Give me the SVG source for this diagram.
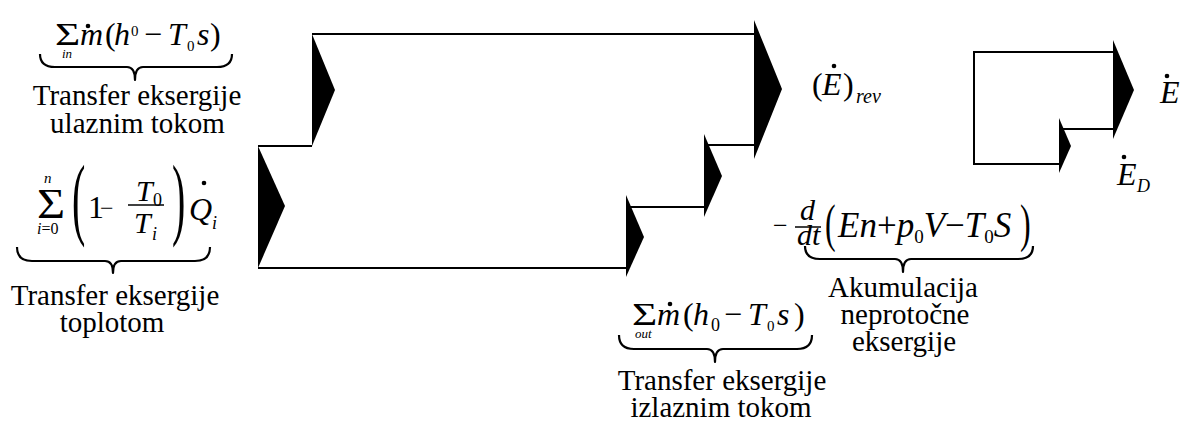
<svg xmlns="http://www.w3.org/2000/svg" width="1184" height="424" viewBox="0 0 1184 424" font-family="'Liberation Serif', Tinos, 'Times New Roman', serif">
<style>
.ln{stroke:#000;stroke-width:2;fill:none}
.hd{fill:#000;stroke:none}
.br{fill:none;stroke:#000;stroke-width:2.2;stroke-linejoin:round}
.bar{stroke:#000;stroke-width:1.5}
.dot{fill:#000}
text{font-family:'Liberation Serif',Tinos,'Times New Roman',serif;fill:#000;font-size:29px}
.m{font-size:32px}
.i{font-style:italic}
.s{font-size:18px}
.t{font-size:15px}
.xs{font-size:13px}
.c{text-anchor:middle}
.sg{font-size:31px}
</style>
<rect width="1184" height="424" fill="#fff"/>

<g id="connectors">
  <g id="main-flow">
    <path class="ln" d="M258,146 H312 M312,34 H754 M258,268 H626 M626,207 H704 M704,145 H754"/>
    <polygon class="hd" points="312,34 335,90 312,146"/>
    <polygon class="hd" points="258,146 285,206 258,268"/>
    <polygon class="hd" points="754,20 782,89 754,159"/>
    <polygon class="hd" points="704,134 722,176 704,217"/>
    <polygon class="hd" points="626,195 644,237 626,277"/>
  </g>
  <g id="legend-flow">
    <path class="ln" d="M1113,52 H974 V164 H1059 M1059,129 H1113"/>
    <polygon class="hd" points="1113,40 1134,90 1113,139"/>
    <polygon class="hd" points="1059,118 1071,146 1059,173"/>
  </g>
</g>

<g id="inlet-flow">
  <g transform="translate(55,45) scale(1.4,1)"><text class="sg" x="0" y="0">Σ</text></g>
  <text class="xs i" x="62" y="58">in</text>
  <text class="m i" x="80" y="45">m</text>
  <circle class="dot" cx="88" cy="26" r="2.3"/>
  <text class="m" x="105" y="45">(</text>
  <text class="m i" x="114" y="45">h</text>
  <text class="t" x="131" y="36">0</text>
  <text class="m" x="144" y="45">−</text>
  <text class="m i" x="168" y="45">T</text>
  <text class="t" x="187" y="51">0</text>
  <text class="m i" x="197" y="45">s</text>
  <text class="m" x="210" y="45">)</text>
  <path class="br" d="M40,54 Q40,67 55,67 L127,67 Q135,67 135,80 Q135,67 143,67 L217,67 Q232,67 232,54"/>
  <text class="c" x="137" y="105">Transfer eksergije</text>
  <text class="c" x="137.5" y="133">ulaznim tokom</text>
</g>

<g id="heat-flow">
  <g transform="translate(37,218) scale(1.15,1)"><text x="0" y="0" style="font-size:42px">Σ</text></g>
  <text class="t i" x="44" y="183">n</text>
  <text x="37" y="234" style="font-size:16px"><tspan class="i">i</tspan>=0</text>
  <text transform="translate(72,228) scale(1,2.28)" style="font-size:40px">(</text>
  <text class="m" x="88" y="218">1</text>
  <text x="100" y="216" style="font-size:24px">−</text>
  <text class="i" x="136" y="201" style="font-size:30px">T</text>
  <text class="s" x="153" y="206">0</text>
  <line class="bar" x1="128" y1="205" x2="164" y2="205"/>
  <text class="i" x="134" y="233" style="font-size:30px">T</text>
  <text class="s i" x="152" y="240">i</text>
  <text transform="translate(172,228) scale(1,2.28)" style="font-size:40px">)</text>
  <text class="m i" x="189" y="220">Q</text>
  <circle class="dot" cx="204" cy="183" r="2.3"/>
  <text class="s i" x="212" y="229">i</text>
  <path class="br" d="M17,247 Q17,261 32,261 L105,261 Q113,261 113,273 Q113,261 121,261 L195,261 Q210,261 210,247"/>
  <text class="c" x="115" y="305">Transfer eksergije</text>
  <text class="c" x="112" y="332">toplotom</text>
</g>

<g id="outlet-flow">
  <g transform="translate(632,325) scale(1.4,1)"><text class="sg" x="0" y="0">Σ</text></g>
  <text class="xs i" x="635" y="338">out</text>
  <text class="m i" x="657" y="325">m</text>
  <circle class="dot" cx="670" cy="304" r="2.3"/>
  <text class="m" x="683" y="325">(</text>
  <text class="m i" x="693" y="325">h</text>
  <text class="s" x="711" y="331">0</text>
  <text class="m" x="724" y="325">−</text>
  <text class="m i" x="748" y="325">T</text>
  <text class="t" x="767" y="331">0</text>
  <text class="m i" x="777" y="325">s</text>
  <text class="m" x="794" y="325">)</text>
  <path class="br" d="M619,335 Q619,349 634,349 L707,349 Q715,349 715,362 Q715,349 723,349 L797,349 Q812,349 812,335"/>
  <text class="c" x="722" y="390">Transfer eksergije</text>
  <text class="c" x="721" y="417">izlaznim tokom</text>
</g>

<g id="accumulation">
  <text x="773" y="234" style="font-size:26px">−</text>
  <text class="i" x="800" y="220" style="font-size:30px">d</text>
  <line class="bar" x1="795" y1="227" x2="821" y2="227"/>
  <text class="i" x="797" y="245" style="font-size:30px">dt</text>
  <text class="m" transform="translate(825,241) scale(1,1.62)">(</text>
  <text x="838" y="237" style="font-size:35px"><tspan class="i">En</tspan>+<tspan class="i">p</tspan><tspan dy="6" style="font-size:19px">0</tspan><tspan class="i" dy="-6">V</tspan>−<tspan class="i">T</tspan><tspan dy="6" style="font-size:19px">0</tspan><tspan class="i" dy="-6">S</tspan></text>
  <text class="m" transform="translate(1020,241) scale(1,1.62)">)</text>
  <path class="br" d="M805,246 Q805,259 820,259 L895,259 Q903,259 903,272 Q903,259 911,259 L1018,259 Q1033,259 1033,246"/>
  <text class="c" x="903" y="297">Akumulacija</text>
  <text class="c" x="905" y="324">neprotočne</text>
  <text class="c" x="904" y="351">eksergije</text>
</g>

<g id="reversible">
  <text class="m" x="812" y="95">(</text>
  <text class="m i" x="822" y="95">E</text>
  <circle class="dot" cx="834" cy="66" r="2.3"/>
  <text class="m" x="843" y="95">)</text>
  <text class="i" x="856" y="103" style="font-size:20px">rev</text>
</g>

<g id="exergy">
  <text class="m i" x="1160" y="103">E</text>
  <circle class="dot" cx="1167" cy="76" r="2.3"/>
</g>

<g id="destruction">
  <text class="m i" x="1117" y="185">E</text>
  <circle class="dot" cx="1124" cy="157" r="2.3"/>
  <text class="s i" x="1137" y="192">D</text>
</g>
</svg>
